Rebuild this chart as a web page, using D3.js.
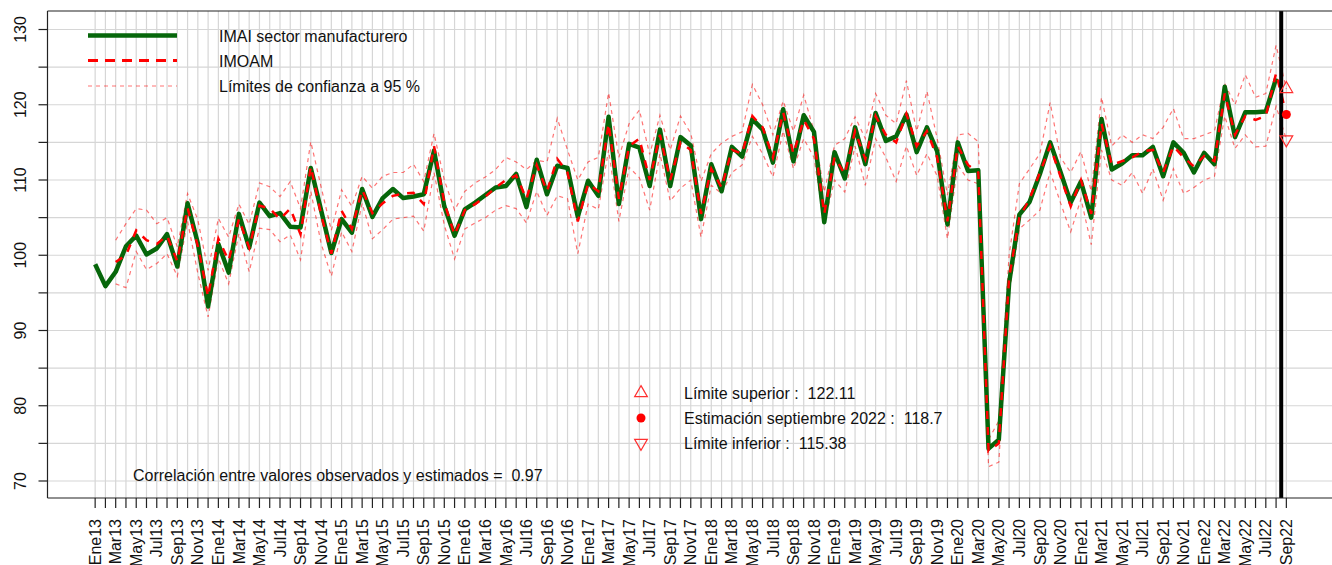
<!DOCTYPE html>
<html>
<head>
<meta charset="utf-8">
<script src="https://cdn.jsdelivr.net/npm/d3@7"></script>
<style>
  body { margin: 0; background: #fff; }
  text { font-family: "Liberation Sans", Arial, sans-serif; fill: #111; white-space: pre; }
</style>
</head>
<body>
<svg id="chart" width="1332" height="565"></svg>
<script>
// months Ene13 .. Sep22
var monthNames = ['Ene','Feb','Mar','Abr','May','Jun','Jul','Ago','Sep','Oct','Nov','Dic'];
var years = ['13','14','15','16','17','18','19','20','21','22'];
var lastMonth = 8; // Sep22

var categories = [];
years.forEach(function(yr, k) {
  monthNames.forEach(function(m, j) {
    if (k < years.length - 1 || j <= lastMonth) categories.push(m + yr);
  });
});

// IMAI sector manufacturero (observed), Ene13 .. Ago22
var imai = [
  98.8, 95.9, 97.8, 101.2, 102.6, 100.1, 100.9, 102.8, 98.5, 106.9, 101.6, 93.2,
  101.5, 97.7, 105.5, 101.0, 107.0, 105.2, 105.6, 103.8, 103.7, 111.6, 106.0, 100.3,
  104.8, 103.0, 108.8, 105.1, 107.6, 108.8, 107.6, 107.8, 108.1, 113.9, 106.5, 102.6,
  106.1, 107.0, 108.0, 109.0, 109.2, 110.8, 106.4, 112.7, 108.1, 111.9, 111.6, 105.1,
  109.9, 107.9, 118.4, 106.8, 114.8, 114.3, 109.2, 116.7, 109.2, 115.7, 114.6, 104.8,
  112.1, 108.5, 114.4, 113.1, 118.1, 116.7, 112.3, 119.4, 112.5, 118.6, 116.4, 104.4,
  113.7, 110.2, 117.0, 112.1, 118.9, 115.2, 115.8, 118.7, 113.7, 117.0, 113.8, 104.1,
  115.0, 111.2, 111.3, 74.3, 75.5, 96.3, 105.4, 107.1, 110.8, 115.0, 111.1, 107.0,
  109.8, 105.0, 118.1, 111.4, 112.2, 113.3, 113.3, 114.4, 110.5, 115.0, 113.6, 111.0,
  113.6, 112.1, 122.4, 115.7, 119.0, 119.0, 119.1, 123.5
];

// IMOAM estimate and 95 % limits, Mar13 .. Sep22
var modelStart = 2;
var imoam = [
  99.1, 100.0, 103.3, 102.0, 101.5, 102.6, 99.2, 106.3, 101.2, 94.5,
  102.2, 99.3, 104.8, 101.0, 106.6, 106.2, 104.8, 106.2, 102.8, 111.8, 105.4, 100.2,
  105.9, 103.5, 108.7, 105.6, 106.9, 107.9, 108.2, 108.3, 106.8, 114.5, 107.0, 102.7,
  106.0, 106.8, 107.8, 109.0, 110.0, 110.6, 107.5, 112.0, 108.5, 112.8, 111.0, 104.5,
  109.5, 108.5, 117.5, 107.5, 114.5, 115.5, 110.0, 116.0, 110.0, 115.0, 114.0, 105.5,
  111.5, 109.0, 114.0, 113.5, 118.5, 117.0, 113.0, 119.0, 113.5, 118.0, 115.5, 105.5,
  113.0, 110.8, 116.5, 112.8, 118.5, 116.0, 115.0, 118.8, 114.5, 116.5, 113.0, 104.5,
  114.5, 112.0, 111.0, 74.0, 75.0, 97.0, 105.0, 107.5, 111.0, 114.5, 110.5, 106.5,
  110.0, 105.5, 117.5, 112.0, 112.5, 113.0, 113.8, 114.0, 111.0, 114.5, 113.0, 111.8,
  113.2, 112.5, 121.5, 116.0, 118.5, 118.0, 118.5, 124.2, 118.7
];
var upper = [
  102.0, 104.2, 106.2, 106.0, 104.2, 105.0, 101.1, 108.2, 104.7, 98.0,
  104.9, 102.4, 106.8, 104.1, 109.6, 109.1, 107.8, 109.8, 106.2, 115.1, 109.1, 103.3,
  108.7, 106.5, 110.5, 108.9, 110.5, 111.0, 111.0, 112.1, 109.8, 116.2, 110.0, 106.0,
  108.5, 109.6, 110.4, 111.4, 113.0, 112.4, 111.4, 112.6, 112.4, 118.2, 114.0, 110.0,
  112.4, 113.0, 121.6, 113.0, 117.5, 119.3, 113.4, 118.6, 114.0, 118.5, 116.2, 109.8,
  113.5, 114.9, 115.8, 116.4, 122.7, 120.0, 116.0, 120.5, 116.5, 121.3, 116.5, 108.4,
  114.6, 115.5, 118.4, 115.5, 121.5, 118.6, 117.5, 123.2, 116.5, 121.8, 115.5, 108.0,
  116.0, 116.2, 115.1, 75.5, 78.0, 100.0, 109.5, 111.5, 113.5, 120.3, 113.0, 111.0,
  113.8, 108.5, 121.0, 114.5, 116.0, 115.0, 116.0, 115.5, 117.0, 119.5, 115.5, 115.5,
  116.0, 116.5, 122.8, 120.0, 124.0, 121.0, 121.5, 127.9, 122.11
];
var lower = [
  96.2, 95.7, 100.5, 98.1, 98.9, 100.2, 97.2, 104.5, 97.6, 91.8,
  99.6, 96.2, 102.9, 97.8, 103.6, 103.4, 101.8, 102.7, 99.4, 108.5, 101.6, 97.2,
  103.1, 100.5, 106.9, 102.2, 103.4, 104.8, 105.0, 105.2, 103.2, 111.0, 104.0, 99.5,
  103.5, 104.3, 105.0, 106.0, 106.6, 106.2, 104.3, 108.5, 105.3, 107.9, 107.5, 100.2,
  106.8, 106.1, 114.0, 104.5, 111.7, 110.3, 106.0, 113.5, 107.2, 108.9, 110.0, 102.4,
  109.3, 108.2, 111.0, 112.0, 115.8, 113.5, 110.4, 116.5, 111.5, 115.5, 113.0, 104.2,
  110.0, 108.4, 114.5, 109.3, 115.5, 113.0, 109.8, 114.5, 110.6, 113.5, 110.5, 102.2,
  112.0, 110.0, 109.5, 71.9, 72.5, 95.0, 103.5, 104.7, 106.0, 111.1, 107.0, 103.1,
  107.5, 101.4, 114.0, 110.0, 109.3, 111.0, 108.2, 111.5, 107.3, 111.5, 108.2, 109.0,
  110.0, 110.5, 118.5, 114.2, 116.0, 114.4, 114.5, 119.8, 115.38
];

var yTicks = [70, 75, 80, 85, 90, 95, 100, 105, 110, 115, 120, 125, 130];
var yLabels = [70, 80, 90, 100, 110, 120, 130];

var estimateLabel = 'Estimación septiembre 2022';
var correlation = '0.97';

var margin = { top: 11, left: 47.5, bottom: 498, right: 1334 };

var svg = d3.select('#chart');

var x = d3.scaleLinear().domain([-4.64, 120.64]).range([margin.left, margin.right]);
var y = d3.scaleLinear().domain([67.74, 132.46]).range([margin.bottom, margin.top]);

var nMonths = categories.length;
var lastIdx = nMonths - 1;

// grid
var grid = svg.append('g').attr('class', 'grid');
grid.selectAll('.vgrid')
  .data(d3.range(nMonths))
  .enter().append('line')
  .attr('x1', function(d) { return x(d); })
  .attr('x2', function(d) { return x(d); })
  .attr('y1', margin.top)
  .attr('y2', margin.bottom)
  .attr('stroke', '#d6d6d6')
  .attr('stroke-width', 1.2);
grid.selectAll('.hgrid')
  .data(yTicks)
  .enter().append('line')
  .attr('x1', margin.left)
  .attr('x2', margin.right)
  .attr('y1', function(d) { return y(d); })
  .attr('y2', function(d) { return y(d); })
  .attr('stroke', '#d6d6d6')
  .attr('stroke-width', 1.2);

// series
function series(arr, offset) {
  return arr.map(function(v, i) { return { i: i + offset, v: v }; });
}
var line = d3.line()
  .x(function(d) { return x(d.i); })
  .y(function(d) { return y(d.v); });

var bandStyle = function(sel) {
  sel.attr('fill', 'none')
    .attr('stroke', 'rgba(255,0,0,0.55)')
    .attr('stroke-width', 1.2)
    .attr('stroke-dasharray', '4,4');
};

svg.append('path').datum(series(upper, modelStart)).attr('d', line).call(bandStyle);
svg.append('path').datum(series(lower, modelStart)).attr('d', line).call(bandStyle);

svg.append('path')
  .datum(series(imai, 0))
  .attr('d', line)
  .attr('fill', 'none')
  .attr('stroke', '#06660a')
  .attr('stroke-width', 4.5)
  .attr('stroke-linejoin', 'round');

svg.append('path')
  .datum(series(imoam, modelStart))
  .attr('d', line)
  .attr('fill', 'none')
  .attr('stroke', '#ff0000')
  .attr('stroke-width', 2.5)
  .attr('stroke-dasharray', '8,8');

// vertical divider before the estimated month
svg.append('line')
  .attr('x1', x(lastIdx - 0.5)).attr('x2', x(lastIdx - 0.5))
  .attr('y1', margin.top).attr('y2', margin.bottom)
  .attr('stroke', '#000').attr('stroke-width', 4);

// estimate markers
var tri = d3.symbol().type(d3.symbolTriangle).size(70);
var lastEst = imoam[imoam.length - 1],
    lastUp = upper[upper.length - 1],
    lastLo = lower[lower.length - 1];

svg.append('path').attr('d', tri)
  .attr('transform', 'translate(' + x(lastIdx) + ',' + y(lastUp) + ')')
  .attr('fill', 'none').attr('stroke', '#ff3030').attr('stroke-width', 1.2);
svg.append('circle')
  .attr('cx', x(lastIdx)).attr('cy', y(lastEst)).attr('r', 4.5)
  .attr('fill', '#ff0000');
svg.append('path').attr('d', tri)
  .attr('transform', 'translate(' + x(lastIdx) + ',' + y(lastLo) + ') rotate(180)')
  .attr('fill', 'none').attr('stroke', '#ff3030').attr('stroke-width', 1.2);

// axes frame
var frame = svg.append('g');
frame.append('line').attr('x1', margin.left).attr('x2', margin.right)
  .attr('y1', margin.top).attr('y2', margin.top).attr('stroke', '#222').attr('stroke-width', 1.2);
frame.append('line').attr('x1', margin.left).attr('x2', margin.right)
  .attr('y1', margin.bottom).attr('y2', margin.bottom).attr('stroke', '#222').attr('stroke-width', 1.2);
frame.append('line').attr('x1', margin.left).attr('x2', margin.left)
  .attr('y1', margin.top).attr('y2', margin.bottom).attr('stroke', '#222').attr('stroke-width', 1.2);

// y axis
var yAxis = svg.append('g');
yAxis.selectAll('.ytick').data(yTicks).enter().append('line')
  .attr('x1', margin.left - 9).attr('x2', margin.left)
  .attr('y1', function(d) { return y(d); }).attr('y2', function(d) { return y(d); })
  .attr('stroke', '#222').attr('stroke-width', 1.2);
yAxis.selectAll('.ylab').data(yLabels).enter().append('text')
  .attr('transform', function(d) { return 'translate(20,' + y(d) + ') rotate(-90)'; })
  .attr('text-anchor', 'middle')
  .attr('dy', '0.35em')
  .style('font-size', '16px')
  .text(function(d) { return d; });

// x axis
var xAxis = svg.append('g');
xAxis.selectAll('.xtick').data(d3.range(nMonths)).enter().append('line')
  .attr('x1', function(d) { return x(d); }).attr('x2', function(d) { return x(d); })
  .attr('y1', margin.bottom).attr('y2', margin.bottom + 10)
  .attr('stroke', '#222').attr('stroke-width', 1.2);
xAxis.selectAll('.xlab')
  .data(categories.filter(function(c, i) { return i % 2 === 0; }))
  .enter().append('text')
  .attr('transform', function(d) {
    return 'translate(' + x(categories.indexOf(d)) + ',' + (margin.bottom + 21) + ') rotate(-90)';
  })
  .attr('text-anchor', 'end')
  .attr('dy', '0.35em')
  .style('font-size', '16px')
  .text(function(d) { return d; });

// legend
var legend = svg.append('g');
legend.append('line').attr('x1', 88).attr('x2', 177).attr('y1', 35.5).attr('y2', 35.5)
  .attr('stroke', '#06660a').attr('stroke-width', 4.5);
legend.append('line').attr('x1', 88).attr('x2', 177).attr('y1', 60.5).attr('y2', 60.5)
  .attr('stroke', '#ff0000').attr('stroke-width', 3).attr('stroke-dasharray', '10,7');
legend.append('line').attr('x1', 88).attr('x2', 177).attr('y1', 86).attr('y2', 86)
  .call(bandStyle);
var legendText = ['IMAI sector manufacturero', 'IMOAM', 'Límites de confianza a 95 %'];
legend.selectAll('.lt').data(legendText).enter().append('text')
  .attr('x', 219)
  .attr('y', function(d, i) { return 36 + i * 25; })
  .attr('dy', '0.35em')
  .style('font-size', '16px')
  .text(function(d) { return d; });

// estimate legend
var est = svg.append('g');
est.append('path').attr('d', tri)
  .attr('transform', 'translate(641,393)')
  .attr('fill', 'none').attr('stroke', '#ff3030').attr('stroke-width', 1.2);
est.append('circle').attr('cx', 641).attr('cy', 418).attr('r', 4.5).attr('fill', '#ff0000');
est.append('path').attr('d', tri)
  .attr('transform', 'translate(641,443) rotate(180)')
  .attr('fill', 'none').attr('stroke', '#ff3030').attr('stroke-width', 1.2);
var estText = [
  'Límite superior :  ' + lastUp.toFixed(2),
  estimateLabel + ' :  ' + lastEst,
  'Límite inferior :  ' + lastLo.toFixed(2)
];
est.selectAll('.et').data(estText).enter().append('text')
  .attr('x', 684)
  .attr('y', function(d, i) { return 393 + i * 25; })
  .attr('dy', '0.35em')
  .style('font-size', '16px')
  .text(function(d) { return d; });

svg.append('text')
  .attr('x', 133).attr('y', 475).attr('dy', '0.35em')
  .style('font-size', '16px')
  .text('Correlación entre valores observados y estimados =  ' + correlation);
</script>
</body>
</html>
